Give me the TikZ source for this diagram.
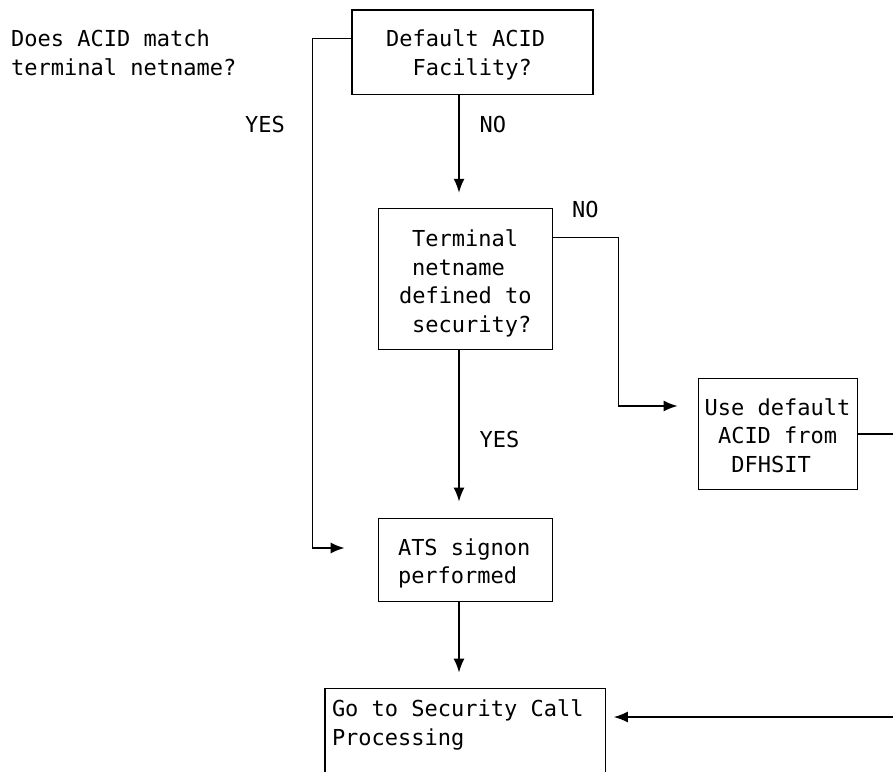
\documentclass[tikz,border=0pt]{standalone}
\usepackage{fontspec}
\newfontfamily\monof{DejaVu Sans Mono}
\usetikzlibrary{arrows.meta}
\tikzset{
  boxn/.style={draw, line width=1.5pt, rectangle, inner sep=0pt},
  txt/.style={anchor=base west, inner sep=0pt, font=\monof\fontsize{22}{28}\selectfont},
  conn/.style={line width=1.5pt},
  arr/.style={conn, -{Latex[length=14pt,width=11pt]}},
}
\begin{document}
\begin{tikzpicture}[x=1pt,y=-1pt]
\useasboundingbox (0,0) rectangle (893,771);
\clip (0,0) rectangle (893,771);
% boxes
\node[boxn, minimum width=241pt, minimum height=84.3pt] (b1) at (472.5,52.2) {};
\node[boxn, minimum width=174.2pt, minimum height=140.8pt] (b2) at (465.4,278.9) {};
\node[boxn, minimum width=159.4pt, minimum height=111pt] (b3) at (778,433.8) {};
\node[boxn, minimum width=174.4pt, minimum height=83.4pt] (b4) at (465.5,560) {};
\node[boxn, minimum width=280.5pt, minimum height=111.7pt] (b5) at (465.3,744.2) {};
% texts
\node[txt] (q1) at (11,46.7) {Does ACID match};
\node[txt] (q2) at (11,75.5) {terminal netname?};
\node[txt] (t11) at (386,46.7) {Default ACID};
\node[txt] (t12) at (412.5,75.5) {Facility?};
\node[txt] (t21) at (412,246.7) {Terminal};
\node[txt] (t22) at (412,275.3) {netname};
\node[txt] (t23) at (399,303.9) {defined to};
\node[txt] (t24) at (412,332.4) {security?};
\node[txt] (t31) at (704.5,415) {Use default};
\node[txt] (t32) at (717.8,443.5) {ACID from};
\node[txt] (t33) at (731.2,472) {DFHSIT};
\node[txt] (t41) at (397.8,555) {ATS signon};
\node[txt] (t42) at (397.8,583.5) {performed};
\node[txt] (t51) at (331.8,716.7) {Go to Security Call};
\node[txt] (t52) at (331.8,745) {Processing};
% labels
\node[txt] (lyes1) at (245,132) {YES};
\node[txt] (lno1) at (479.5,132) {NO};
\node[txt] (lno2) at (572,217) {NO};
\node[txt] (lyes2) at (479.5,447) {YES};
% helper coordinates
\coordinate (xm) at (459,0);
\coordinate (yl) at (0,38.3);
\coordinate (lc) at (312.3,548);
\coordinate (yn) at (0,237.3);
\coordinate (nc) at (618.5,406);
\coordinate (yr) at (0,434);
\coordinate (rc1) at (905,434);
\coordinate (rc2) at (905,717);
% connectors
\draw[arr, shorten >=33pt] (b1.west |- yl) -| (lc) -- (b4.west |- lc);
\draw[arr, shorten >=15pt] (b1.south -| xm) -- (b2.north -| xm);
\draw[arr, shorten >=20pt] (b2.east |- yn) -| (nc) -- (b3.west |- nc);
\draw[arr, shorten >=16pt] (b2.south -| xm) -- (b4.north -| xm);
\draw[arr, shorten >=15pt] (b4.south -| xm) -- (b5.north -| xm);
\draw[arr, shorten >=7.5pt] (b3.east |- yr) -- (rc1) -- (rc2) -- (b5.east |- rc2);
\end{tikzpicture}
\end{document}
